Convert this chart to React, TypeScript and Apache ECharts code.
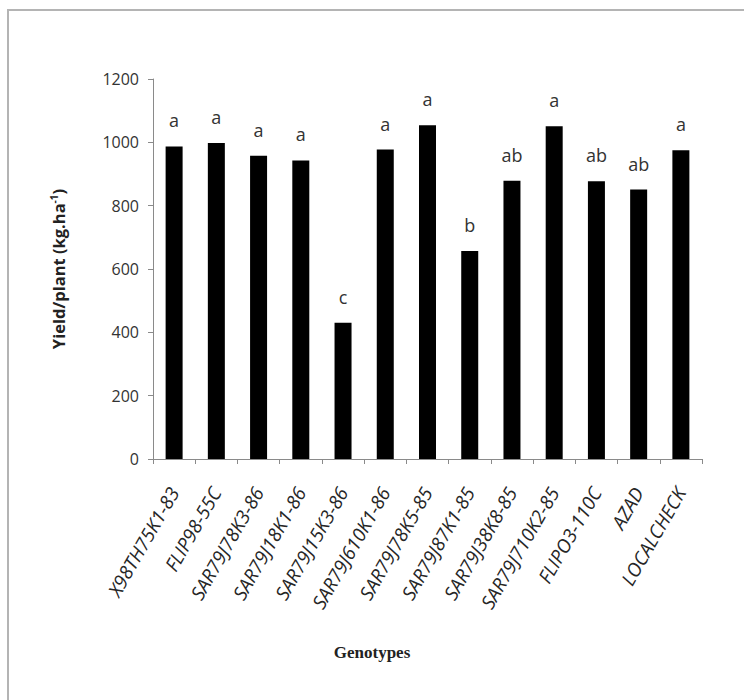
import React, { useEffect, useRef } from "react";
import * as echarts from "echarts";

const genotypes = [
  "X98TH75K1-83",
  "FLIP98-55C",
  "SAR79J78K3-86",
  "SAR79J18K1-86",
  "SAR79J15K3-86",
  "SAR79J610K1-86",
  "SAR79J78K5-85",
  "SAR79J87K1-85",
  "SAR79J38K8-85",
  "SAR79J710K2-85",
  "FLIPO3-110C",
  "AZAD",
  "LOCALCHECK",
];
const yieldValues = [987, 998, 958, 943, 430, 977, 1054, 657, 879, 1051, 877, 851, 975];
const groupLetters = ["a", "a", "a", "a", "c", "a", "a", "b", "ab", "a", "ab", "ab", "a"];
const yTicks = { min: 0, max: 1200, interval: 200 };

const sans = "'Open Sans', 'Noto Sans', sans-serif";

export default function App() {
  const ref = useRef<HTMLDivElement>(null);
  useEffect(() => {
    if (!ref.current) return;
    const chart = echarts.init(ref.current, undefined, { renderer: "svg" });
    chart.setOption({
      animation: false,
      backgroundColor: "#ffffff",
      grid: { left: 153, right: 42, top: 79, bottom: 241, containLabel: false },
      graphic: [
        {
          type: "rect",
          shape: { x: 8, y: 10, width: 760, height: 720 },
          style: { fill: "none", stroke: "#b4b4b4", lineWidth: 2 },
          silent: true,
        },
        {
          type: "text",
          x: 372,
          y: 652,
          style: {
            text: "Genotypes",
            font: "bold 17px 'Liberation Serif', 'DejaVu Serif', serif",
            fill: "#222222",
            align: "center",
            verticalAlign: "middle",
          },
        },
      ],
      xAxis: {
        type: "category",
        data: genotypes,
        axisLine: { lineStyle: { color: "#8a8a8a", width: 1 } },
        axisTick: { show: true, length: 5, lineStyle: { color: "#8a8a8a" } },
        axisLabel: {
          interval: 0,
          rotate: 60,
          margin: 30,
          fontFamily: sans,
          fontStyle: "italic",
          fontSize: 19,
          color: "#262626",
        },
      },
      yAxis: {
        type: "value",
        min: yTicks.min,
        max: yTicks.max,
        interval: yTicks.interval,
        name: "{t|Yield/plant (kg.ha}{s|-1}{t|)}",
        nameLocation: "middle",
        nameRotate: 90,
        nameGap: 85,
        nameTextStyle: {
          rich: {
            t: { fontFamily: sans, fontWeight: "bold", fontSize: 16.5, color: "#222222" },
            s: { fontFamily: sans, fontWeight: "bold", fontSize: 10, color: "#222222", verticalAlign: "top", padding: [0, 0, 9, 0] },
          },
        },
        splitLine: { show: false },
        axisLine: { show: true, lineStyle: { color: "#8a8a8a", width: 1 } },
        axisTick: { show: true, length: 5, lineStyle: { color: "#8a8a8a" } },
        axisLabel: {
          fontFamily: sans,
          fontSize: 16,
          color: "#333333",
          margin: 14,
          formatter: (v: number) => String(v),
        },
      },
      series: [
        {
          type: "bar",
          data: yieldValues,
          barWidth: 17,
          itemStyle: { color: "#000000" },
          label: {
            show: true,
            position: "top",
            distance: 17,
            formatter: (p: any) => groupLetters[p.dataIndex],
            fontFamily: sans,
            fontSize: 18,
            color: "#333333",
          },
        },
      ],
    });
    return () => chart.dispose();
  }, []);
  return <div ref={ref} style={{ position: "fixed", left: 0, top: 0, width: 744, height: 700 }} />;
}
